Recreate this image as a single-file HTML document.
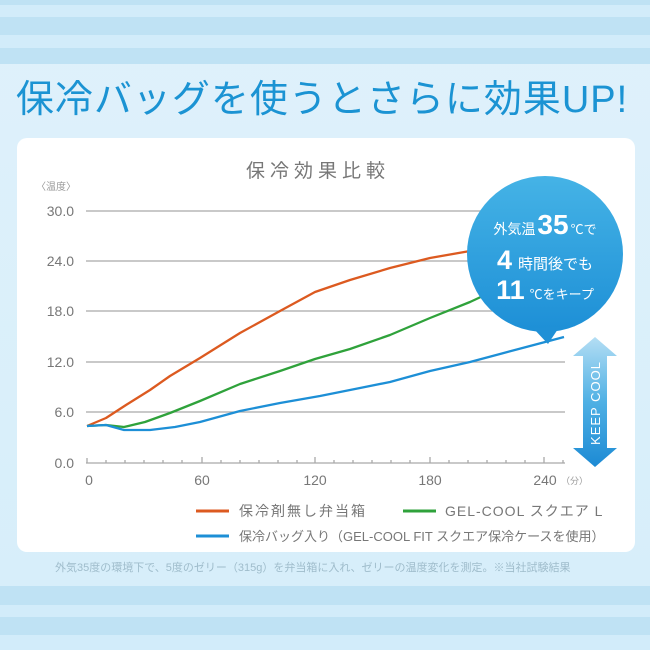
<!DOCTYPE html>
<html><head><meta charset="utf-8"><style>
body{margin:0;width:650px;height:650px;overflow:hidden;font-family:"Liberation Sans","Noto Sans CJK JP",sans-serif;}
</style></head><body>
<svg width="650" height="650" viewBox="0 0 650 650" xmlns="http://www.w3.org/2000/svg" style="display:block">
<defs>
<linearGradient id="bg" x1="0" y1="0" x2="0" y2="1"><stop offset="0" stop-color="#dff1fb"/><stop offset="1" stop-color="#d6eefa"/></linearGradient>
<linearGradient id="bub" x1="0" y1="0" x2="0" y2="1"><stop offset="0" stop-color="#45b3e6"/><stop offset="1" stop-color="#1d8fd6"/></linearGradient>
<linearGradient id="arr" x1="0" y1="0" x2="0" y2="1"><stop offset="0" stop-color="#b4def4"/><stop offset="0.5" stop-color="#4fb0e4"/><stop offset="1" stop-color="#1c8ad4"/></linearGradient>
</defs>
<rect width="650" height="650" fill="url(#bg)"/>
<rect y="0" width="650" height="64" fill="#bfe2f4"/>
<rect y="5" width="650" height="12" fill="#d2ecfa"/>
<rect y="35" width="650" height="13" fill="#d2ecfa"/>
<rect y="586" width="650" height="64" fill="#bfe2f4"/>
<rect y="605" width="650" height="12" fill="#d2ecfa"/>
<rect y="635" width="650" height="15" fill="#d2ecfa"/>
<text x="322" y="112" text-anchor="middle" font-size="38" fill="#1b93d3" letter-spacing="1">保冷バッグを使うとさらに効果UP!</text>
<rect x="17" y="138" width="618" height="414" rx="10" fill="#fff"/>
<text x="318" y="177" text-anchor="middle" font-size="19" fill="#777" letter-spacing="5">保冷効果比較</text>
<text x="36" y="190" font-size="10" fill="#999">〈温度〉</text>
<g stroke="#a9a9a9" stroke-width="1.3">
<line x1="86" y1="211" x2="565" y2="211"/><line x1="86" y1="261" x2="565" y2="261"/><line x1="86" y1="311" x2="565" y2="311"/><line x1="86" y1="362" x2="565" y2="362"/><line x1="86" y1="412" x2="565" y2="412"/><line x1="86" y1="463" x2="565" y2="463"/>
<path d="M87 463v-5M106 463v-3M125 463v-3M144 463v-3M163 463v-3M182 463v-3M202 463v-6M221 463v-3M240 463v-3M259 463v-3M278 463v-3M297 463v-3M315 463v-6M334 463v-3M353 463v-3M372 463v-3M391 463v-3M410 463v-3M430 463v-6M449 463v-3M468 463v-3M487 463v-3M506 463v-3M525 463v-3M544 463v-6M563 463v-3"/>
</g>
<g font-size="14" fill="#777" text-anchor="end">
<text x="74" y="216">30.0</text><text x="74" y="266">24.0</text><text x="74" y="316">18.0</text><text x="74" y="367">12.0</text><text x="74" y="417">6.0</text><text x="74" y="468">0.0</text>
</g>
<g font-size="14" fill="#777" text-anchor="middle">
<text x="89" y="485">0</text><text x="202" y="485">60</text><text x="315" y="485">120</text><text x="430" y="485">180</text><text x="545" y="485">240</text>
</g>
<text x="561" y="484" font-size="9" fill="#999">（分）</text>
<g fill="none" stroke-width="2.3" stroke-linejoin="round">
<polyline stroke="#dc5a20" points="87,426 106,418 126,405 150,390 170,376 200,358 240,333 280,311 315,292 350,280 390,268 430,258 470,251 495,247"/>
<polyline stroke="#2fa23b" points="87,426 106,425 124,427 145,422 170,413 200,401 240,384 280,371 315,359 350,349 390,335 430,318 470,302 500,288"/>
<polyline stroke="#1d8fd6" points="87,426 106,425 124,430 150,430 175,427 200,422 240,411 280,403 320,396 360,388 390,382 430,371 470,362 500,354 530,346 564,337"/>
</g>
<circle cx="545" cy="254" r="78" fill="url(#bub)"/>
<path d="M533 328 L548 344 L560 326 Z" fill="#1f90d6"/>
<g fill="#fff" text-anchor="middle">
<text x="545" y="234"><tspan font-size="14">外気温</tspan><tspan font-size="28" font-weight="bold" dx="2">35</tspan><tspan font-size="13" dx="2">℃で</tspan></text>
<text x="545" y="269"><tspan font-size="27" font-weight="bold">4</tspan><tspan font-size="15" dx="6">時間後でも</tspan></text>
<text x="545" y="299"><tspan font-size="27" font-weight="bold">11</tspan><tspan font-size="13" dx="5">℃をキープ</tspan></text>
</g>
<path d="M595 337 L617 356 L607 356 L607 448 L617 448 L595 467 L573 448 L583 448 L583 356 L573 356 Z" fill="url(#arr)"/>
<text transform="translate(600,403) rotate(-90)" text-anchor="middle" font-size="13" fill="#fff" letter-spacing="1">KEEP COOL</text>
<g stroke-width="3">
<line x1="196" y1="511" x2="229" y2="511" stroke="#dc5a20"/>
<line x1="403" y1="511" x2="436" y2="511" stroke="#2fa23b"/>
<line x1="196" y1="536" x2="229" y2="536" stroke="#1d8fd6"/>
</g>
<g font-size="14" fill="#777">
<text x="239" y="516" letter-spacing="2">保冷剤無し弁当箱</text>
<text x="445" y="516" letter-spacing="1">GEL-COOL スクエア L</text>
<text x="239" y="541" font-size="13">保冷バッグ入り（GEL-COOL FIT スクエア保冷ケースを使用）</text>
</g>
<text x="55" y="571" font-size="11" fill="#9fbccb">外気35度の環境下で、5度のゼリー（315g）を弁当箱に入れ、ゼリーの温度変化を測定。※当社試験結果</text>
</svg>
</body></html>
